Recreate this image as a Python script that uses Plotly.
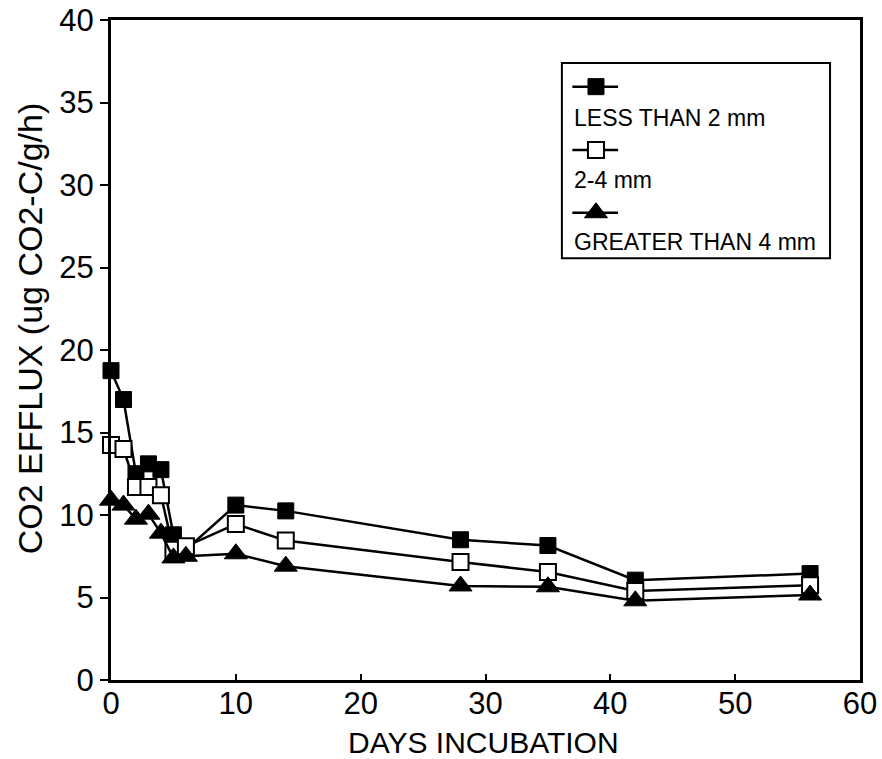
import plotly.graph_objects as go

# Incubation days sampled
days = [0, 1, 2, 3, 4, 5, 6, 10, 14, 28, 35, 42, 56]

# CO2 efflux (ug CO2-C/g/h) by aggregate size class
efflux_lt2 = [18.75, 17.0, 12.5, 13.1, 12.75, 8.8, 7.9, 10.6, 10.25, 8.5, 8.15, 6.05, 6.45]
efflux_2to4 = [14.25, 14.0, 11.7, 11.7, 11.2, 7.9, 8.1, 9.45, 8.45, 7.15, 6.55, 5.4, 5.75]
efflux_gt4 = [10.9, 10.6, 9.75, 10.05, 8.9, 7.4, 7.5, 7.65, 6.9, 5.7, 5.65, 4.8, 5.15]

series_names = ["LESS THAN 2 mm", "2-4 mm", "GREATER THAN 4 mm"]

x_ticks = [0, 10, 20, 30, 40, 50, 60]
y_ticks = [0, 5, 10, 15, 20, 25, 30, 35, 40]

FONT = "Liberation Sans, Arial, Helvetica, sans-serif"
INK = "#000000"

styles = [
    dict(symbol="square", size=16, color=INK, line=dict(color=INK, width=1)),
    dict(symbol="square", size=16, color="white", line=dict(color=INK, width=2)),
    dict(symbol="triangle-up", size=20, color=INK, line=dict(color=INK, width=1)),
]

fig = go.Figure()
for name, vals, mk in zip(series_names, [efflux_lt2, efflux_2to4, efflux_gt4], styles):
    fig.add_trace(go.Scatter(
        x=days, y=vals, name=name, mode="lines+markers",
        line=dict(color=INK, width=2.5),
        marker=mk, showlegend=False, cliponaxis=False,
    ))

# Boxed key: symbol sample on one row, label on the row below
key_left, key_right = 0.616, 0.677
key_mid = 0.6475
key_sym_y = [0.899, 0.803, 0.708]
key_txt_y = [0.852, 0.758, 0.664]
for mk, sy in zip(styles, key_sym_y):
    fig.add_trace(go.Scatter(
        x=[key_left, key_right], y=[sy, sy], mode="lines",
        line=dict(color=INK, width=2.5), xaxis="x2", yaxis="y2",
        showlegend=False, hoverinfo="skip",
    ))
    fig.add_trace(go.Scatter(
        x=[key_mid], y=[sy], mode="markers", marker=mk,
        xaxis="x2", yaxis="y2", showlegend=False, hoverinfo="skip",
    ))

annotations = [
    dict(x=0.616, y=ty, xref="paper", yref="paper", text=name, showarrow=False,
         xanchor="left", yanchor="middle", font=dict(family=FONT, size=23, color=INK))
    for name, ty in zip(series_names, key_txt_y)
]
# Axis titles
annotations.append(dict(
    x=-0.108, y=0.533, xref="paper", yref="paper", text="CO2 EFFLUX (ug CO2-C/g/h)",
    showarrow=False, textangle=-90, xanchor="center", yanchor="middle",
    font=dict(family=FONT, size=34, color=INK),
))
annotations.append(dict(
    x=0.497, y=-0.094, xref="paper", yref="paper", text="DAYS INCUBATION",
    showarrow=False, xanchor="center", yanchor="middle",
    font=dict(family=FONT, size=30, color=INK),
))

fig.update_layout(
    width=882, height=759,
    margin=dict(l=111, r=22, t=20, b=79, autoexpand=False),
    paper_bgcolor="white", plot_bgcolor="rgba(0,0,0,0)",
    font=dict(family=FONT, color=INK),
    annotations=annotations,
    shapes=[dict(type="rect", xref="paper", yref="paper",
                 x0=0.602, x1=0.960, y0=0.639, y1=0.935,
                 line=dict(color=INK, width=2), fillcolor="rgba(0,0,0,0)")],
    xaxis=dict(
        range=[0, 60], tickvals=x_ticks, ticks="inside", ticklen=6, tickwidth=2,
        tickcolor=INK, showline=True, linecolor=INK, linewidth=3, mirror=True,
        showgrid=False, zeroline=False, ticklabelstandoff=-6, automargin=False,
        tickfont=dict(family=FONT, size=31, color=INK),
    ),
    yaxis=dict(
        range=[0, 40], tickvals=y_ticks, ticks="outside", ticklen=8, tickwidth=2,
        tickcolor=INK, showline=True, linecolor=INK, linewidth=3,
        mirror=True, showgrid=False, zeroline=False, automargin=False,
        tickfont=dict(family=FONT, size=31, color=INK),
    ),
    xaxis2=dict(domain=[0, 1], range=[0, 1], anchor="y2", visible=False, fixedrange=True),
    yaxis2=dict(domain=[0, 1], range=[0, 1], anchor="x2", visible=False, fixedrange=True),
)

fig.write_html("out.html")
